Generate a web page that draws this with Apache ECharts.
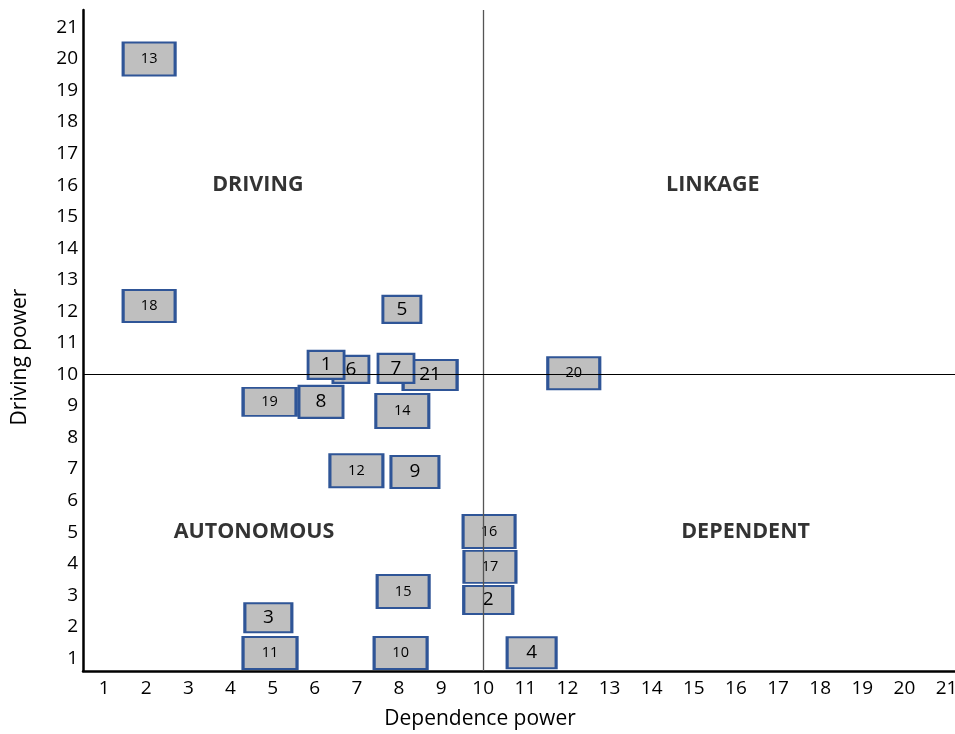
<!DOCTYPE html>
<html>
<head>
<meta charset="utf-8">
<script src="https://cdn.jsdelivr.net/npm/echarts@6/dist/echarts.min.js"></script>
<style>
html,body{margin:0;padding:0;background:#fff;}
#chart{width:955px;height:734px;}
</style>
</head>
<body>
<div id="chart"></div>
<script>
// ---- data ----
const ids        = ['13','18','5','6','1','21','7','20','19','8','14','12','9','16','17','2','15','3','11','10','4'];
const dependence = [2.07,2.07,8.07,6.86,6.27,8.74,7.93,12.15,4.93,6.15,8.08,6.99,8.38,10.14,10.16,10.12,8.1,4.9,4.94,8.04,11.15];
const driving    = [20.0,12.17,12.06,10.16,10.3,9.98,10.19,10.04,9.13,9.13,8.84,6.95,6.91,5.02,3.9,2.85,3.12,2.29,1.17,1.17,1.18];
const tickValues = [1,2,3,4,5,6,7,8,9,10,11,12,13,14,15,16,17,18,19,20,21];
const threshold  = 10;
const quadrantNames = ['DRIVING','LINKAGE','AUTONOMOUS','DEPENDENT'];
const quadrantX     = [4.65,15.45,4.56,16.23];
const quadrantY     = [16.0,16.0,5.02,5.0];

// ---- styles (kept apart from data) ----
const boxStyle = {
  '13':[52,33,'s'],'18':[52,32,'s'],'5':[38,27,'l'],'6':[36,27,'l'],'1':[36,28,'l'],
  '21':[54,30,'l'],'7':[36,29,'l'],'20':[52,32,'s'],'19':[53,28,'s'],'8':[44,32,'l'],
  '14':[53,34,'s'],'12':[53,33,'s'],'9':[48,32,'l'],'16':[52,33,'s'],'17':[52,32,'s'],
  '2':[49,28,'l'],'15':[52,33,'s'],'3':[47,29,'l'],'11':[54,32,'s'],'10':[53,32,'s'],'4':[49,31,'l']
};
const FONT = '"Open Sans", Lato, sans-serif';

const boxData = ids.map((id, i) => {
  const st = boxStyle[id];
  return {
    name: id,
    value: [dependence[i], driving[i]],
    symbolSize: [st[0], st[1]],
    label: { fontSize: st[2] === 's' ? 14.5 : 19 }
  };
});

const quadData = quadrantNames.map((n, i) => ({ name: n, value: [quadrantX[i], quadrantY[i]] }));

const chart = echarts.init(document.getElementById('chart'), null, { renderer: 'canvas' });
chart.setOption({
  animation: false,
  backgroundColor: '#fff',
  textStyle: { fontFamily: FONT },
  grid: { left: 83, right: 0, top: 10, bottom: 63, containLabel: false, outerBoundsMode: 'none' },
  xAxis: {
    type: 'value', min: 0.5, max: 21.2,
    name: 'Dependence power', nameLocation: 'middle', nameGap: 38,
    nameTextStyle: { fontSize: 21, color: '#000', fontFamily: FONT, padding: [0, 78, 0, 0] },
    axisLine: { show: true, onZero: false, lineStyle: { color: '#000', width: 2.5 } },
    axisTick: { show: false },
    splitLine: { show: false },
    axisLabel: { customValues: tickValues, fontSize: 19, color: '#000', fontFamily: FONT, margin: 8 }
  },
  yAxis: {
    type: 'value', min: 0.6, max: 21.55,
    name: 'Driving power', nameLocation: 'middle', nameGap: 52,
    nameTextStyle: { fontSize: 21, color: '#000', fontFamily: FONT, padding: [0, 33, 0, 0] },
    axisLine: { show: true, onZero: false, lineStyle: { color: '#000', width: 2.5 } },
    axisTick: { show: false },
    splitLine: { show: false },
    axisLabel: { customValues: tickValues, fontSize: 19, color: '#000', fontFamily: FONT, margin: 5 }
  },
  series: [
    {
      type: 'scatter', z: 1, symbolSize: 0, silent: true,
      data: quadData,
      label: { show: true, position: 'inside', formatter: '{b}', fontSize: 21.5, fontWeight: 'bold', color: '#000', fontFamily: FONT },
      markLine: {
        silent: true, symbol: ['none', 'none'],
        label: { show: false },
        data: [
          { xAxis: threshold, lineStyle: { color: '#555', width: 1.3, type: 'solid' } },
          { yAxis: threshold, lineStyle: { color: '#000', width: 1, type: 'solid' } }
        ]
      }
    },
    {
      type: 'scatter', z: 3, symbol: 'rect',
      itemStyle: { color: '#bfbfbf', borderColor: '#2f5597', borderWidth: 2.5, opacity: 1 },
      label: { show: true, position: 'inside', formatter: '{b}', color: '#000', fontFamily: FONT },
      data: boxData
    }
  ]
});
</script>
</body>
</html>
